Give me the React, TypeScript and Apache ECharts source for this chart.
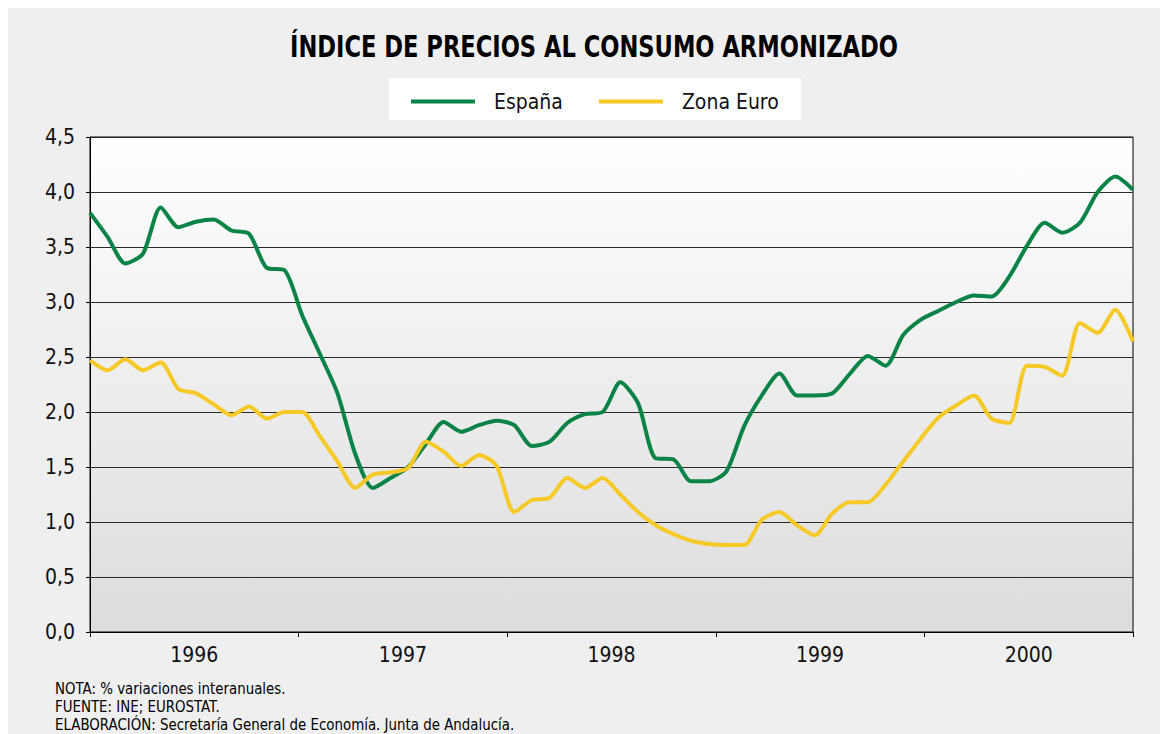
import React, { useEffect, useRef } from "react";
import * as echarts from "echarts";

const YEARS = ["1996", "1997", "1998", "1999", "2000"];
const MONTH_INDEX = Array.from({ length: 60 }, (_, i) => i);
const ESPANA = [
  3.81, 3.59, 3.35, 3.44, 3.86, 3.68, 3.73, 3.75, 3.65, 3.62,
  3.31, 3.29, 2.88, 2.53, 2.17, 1.62, 1.31, 1.40, 1.50, 1.71,
  1.91, 1.82, 1.88, 1.92, 1.88, 1.69, 1.73, 1.90, 1.98, 2.00,
  2.27, 2.08, 1.58, 1.57, 1.37, 1.37, 1.46, 1.87, 2.15, 2.35,
  2.15, 2.15, 2.17, 2.35, 2.51, 2.42, 2.70, 2.84, 2.92, 3.00,
  3.06, 3.05, 3.23, 3.51, 3.72, 3.63, 3.72, 4.00, 4.14, 4.02,
];
const ZONA_EURO = [
  2.47, 2.38, 2.48, 2.38, 2.45, 2.21, 2.17, 2.07, 1.97, 2.05,
  1.94, 2.00, 2.00, 1.78, 1.55, 1.31, 1.43, 1.45, 1.49, 1.73,
  1.64, 1.51, 1.61, 1.51, 1.09, 1.20, 1.22, 1.40, 1.31, 1.40,
  1.25, 1.09, 0.97, 0.89, 0.83, 0.80, 0.79, 0.79, 1.02, 1.09,
  0.97, 0.88, 1.08, 1.18, 1.18, 1.34, 1.55, 1.76, 1.95, 2.06,
  2.15, 1.94, 1.90, 2.42, 2.41, 2.33, 2.81, 2.72, 2.93, 2.64,
];
const TITLE = "ÍNDICE DE PRECIOS AL CONSUMO ARMONIZADO";
const NOTES = [
  "NOTA: % variaciones interanuales.",
  "FUENTE: INE; EUROSTAT.",
  "ELABORACIÓN: Secretaría General de Economía. Junta de Andalucía.",
];

const FONT = "'Liberation Sans Narrow', 'Arial Narrow', 'DejaVu Sans Condensed', sans-serif";
const GREEN = "#0a8446";
const YELLOW = "#f6c926";

export default function App() {
  const ref = useRef<HTMLDivElement>(null);
  useEffect(() => {
    if (!ref.current) return;
    const chart = echarts.init(ref.current, null, { renderer: "svg" });
    chart.setOption({
      animation: false,
      backgroundColor: "#efefef",
      legend: {
        left: 403,
        top: 83,
        padding: 0,
        itemWidth: 64,
        itemHeight: 4,
        itemGap: 36,
        icon: "rect",
        textStyle: { fontFamily: FONT, fontSize: 21, color: "#111", padding: [0, 0, 0, 14] },
        data: ["España", "Zona Euro"],
      },
      graphic: [
        {
          type: "rect",
          z: -1,
          shape: { x: 381, y: 70, width: 412, height: 42 },
          style: { fill: "#ffffff" },
          silent: true,
        },
        {
          type: "text",
          x: 586,
          y: 39,
          scaleX: 0.81,
          style: {
            text: TITLE,
            fontFamily: FONT,
            fontSize: 31,
            fontWeight: "bold",
            fill: "#000",
            textAlign: "center",
            textVerticalAlign: "middle",
          },
        },
        ...NOTES.map((t, i) => ({
          type: "text",
          x: 47,
          y: 681 + i * 18,
          scaleX: 0.93,
          style: { text: t, fontFamily: FONT, fontSize: 16, fill: "#000", textVerticalAlign: "middle" },
        })),
      ],
      grid: {
        left: 82,
        top: 129,
        width: 1043,
        height: 495,
        show: true,
        borderColor: "#000",
        borderWidth: 1,
        backgroundColor: new echarts.graphic.LinearGradient(0, 0, 0, 1, [
          { offset: 0, color: "#ffffff" },
          { offset: 1, color: "#dcdcdc" },
        ]),
      },
      xAxis: [
        {
          type: "category",
          data: YEARS,
          boundaryGap: true,
          axisLine: { show: true, lineStyle: { color: "#000", width: 1 } },
          axisTick: { show: true, length: 5, lineStyle: { color: "#000" } },
          axisLabel: { fontFamily: FONT, fontSize: 21, color: "#111", margin: 12 },
          splitLine: { show: false },
        },
        {
          type: "value",
          min: 0,
          max: 59,
          show: false,
          splitLine: { show: false },
        },
      ],
      yAxis: {
        type: "value",
        min: 0,
        max: 4.5,
        interval: 0.5,
        axisLine: { show: true, lineStyle: { color: "#000", width: 1 } },
        axisTick: { show: true, length: 4, lineStyle: { color: "#000" } },
        axisLabel: {
          fontFamily: FONT,
          fontSize: 21,
          color: "#111",
          margin: 15,
          formatter: (v: number) => v.toFixed(1).replace(".", ","),
        },
        splitLine: { show: true, lineStyle: { color: "#2a2a2a", width: 1 } },
      },
      series: [
        {
          name: "España",
          type: "line",
          xAxisIndex: 1,
          data: MONTH_INDEX.map((m) => [m, ESPANA[m]]),
          showSymbol: false,
          smooth: 0.25,
          lineStyle: { color: GREEN, width: 4 },
          itemStyle: { color: GREEN },
        },
        {
          name: "Zona Euro",
          type: "line",
          xAxisIndex: 1,
          data: MONTH_INDEX.map((m) => [m, ZONA_EURO[m]]),
          showSymbol: false,
          smooth: 0.25,
          lineStyle: { color: YELLOW, width: 4 },
          itemStyle: { color: YELLOW },
        },
      ],
    });
    return () => chart.dispose();
  }, []);
  return <div ref={ref} style={{ width: 1152, height: 726 }} />;
}
